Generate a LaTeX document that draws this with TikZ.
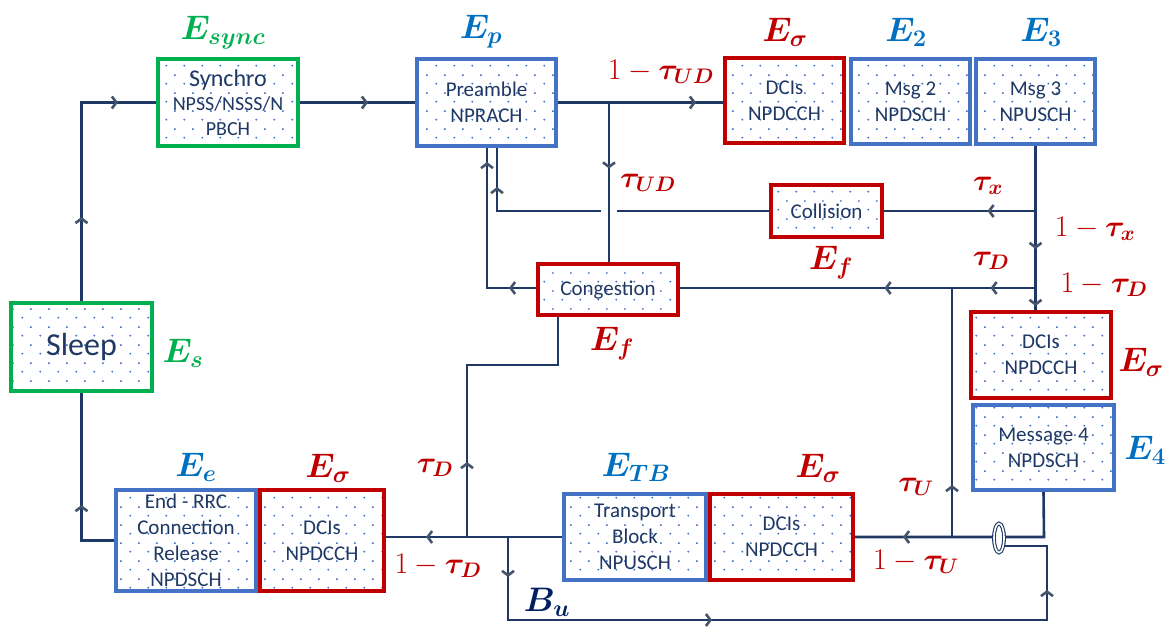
\documentclass[tikz,border=0pt]{standalone}
\usepackage{fix-cm}
\usepackage{amsmath}
\usepackage{bm}
\usepackage[no-math]{fontspec}
\setmainfont{Carlito}
\usetikzlibrary{arrows.meta,decorations.markings,patterns.meta,shapes.geometric}
\definecolor{navy}{HTML}{1F3864}
\definecolor{boxgreen}{HTML}{00B050}
\definecolor{boxblue}{HTML}{4472C4}
\definecolor{boxred}{HTML}{C00000}
\definecolor{lblblue}{HTML}{0070C0}
\definecolor{lblnavy}{HTML}{002060}
\definecolor{arrgray}{HTML}{44546A}
\definecolor{dotblue}{HTML}{4472C4}
\tikzdeclarepattern{
  name=sdots,
  type=uncolored,
  bottom left={(0pt,0pt)},
  top right={(18pt,18pt)},
  tile size={(18pt,18pt)},
  code={
    \fill (4.5pt,4.5pt) circle [radius=1.1pt];
    \fill (13.5pt,13.5pt) circle [radius=1.1pt];
  }
}
\tikzset{
  box/.style={draw, line width=4pt, pattern=sdots, pattern color=dotblue, inner sep=2pt, align=center, text=navy, font=\fontsize{21}{26}\selectfont},
  gbox/.style={box, draw=boxgreen},
  bbox/.style={box, draw=boxblue},
  rbox/.style={box, draw=boxred},
  conn/.style={draw=navy, line width=2.6pt},
  am/.style={postaction={decorate, decoration={markings, mark=at position #1 with {\arrow[arrgray]{Straight Barb[length=4.5pt,width=12pt,line width=2.6pt]}}}}},
  lbl/.style={font=\fontsize{30}{36}\selectfont, inner sep=0pt},
  elbl/.style={font=\fontsize{34}{40}\selectfont, inner sep=0pt},
}
\begin{document}
\begin{tikzpicture}[x=1pt,y=-1pt]
\useasboundingbox (0,0) rectangle (1170,628);
% boxes
\node[gbox, minimum width=140, minimum height=87, font=\fontsize{20}{24.5}\selectfont] (sync) at (228,102.5) {{\fontsize{24}{26}\selectfont Synchro}\\NPSS/NSSS/N\\PBCH};
\node[gbox, minimum width=141, minimum height=88, font=\fontsize{32}{36}\selectfont] (sleep) at (81.5,347) {Sleep};
\node[bbox, minimum width=139, minimum height=87] (pre) at (486.5,102.5) {Preamble\\NPRACH};
\node[rbox, minimum width=119, minimum height=85] (dci1) at (784.5,100.5) {DCIs\\NPDCCH};
\node[bbox, minimum width=119, minimum height=85] (msg2) at (910.5,101.5) {Msg 2\\NPDSCH};
\node[bbox, minimum width=119, minimum height=85] (msg3) at (1035.5,101.5) {Msg 3\\NPUSCH};
\node[rbox, minimum width=111, minimum height=52] (coll) at (826.5,211) {Collision};
\node[rbox, minimum width=140, minimum height=51] (cong) at (608,290) {Congestion};
\node[rbox, minimum width=140, minimum height=86] (dci2) at (1041,355) {DCIs\\NPDCCH};
\node[bbox, minimum width=141, minimum height=85] (msg4) at (1043.5,447.5) {Message 4\\NPDSCH};
\node[bbox, minimum width=140, minimum height=101] (rrc) at (186,540.5) {End - RRC\\Connection\\Release\\NPDSCH};
\node[rbox, minimum width=124, minimum height=101] (dci3) at (322,540.5) {DCIs\\NPDCCH};
\node[bbox, minimum width=142, minimum height=86] (tb) at (635,537) {Transport\\Block\\NPUSCH};
\node[rbox, minimum width=143, minimum height=86] (dci4) at (781.5,537) {DCIs\\NPDCCH};
% junction coordinates
\coordinate (j1) at (609,102.5);
\coordinate (j2) at (1035.5,211);
\coordinate (j3) at (1035.5,288);
\coordinate (gapR) at (617,211);
\coordinate (gapL) at (601,211);
\coordinate (c1) at (497,211);
\coordinate (c2) at (487,288);
\coordinate (j6) at (952,288);
\coordinate (j5) at (952,537);
\coordinate (m4c) at (1044,537);
\coordinate (j8) at (467,537);
\coordinate (j7) at (508,537);
\coordinate (c3) at (467,365);
\coordinate (c4) at (558,365);
\coordinate (c5) at (81.5,540.5);
\coordinate (bu1) at (508,620);
\coordinate (bu2) at (1047,620);
\coordinate (bu3) at (1047,546);
\coordinate (ringR) at (1004,546);
% connectors
\draw[conn, am=84pt, am=235pt] (sleep.north) |- (sync.west);
\draw[conn, am=68pt] (sync.east) -- (pre.west);
\draw[conn, am=138pt] (pre.east) -- (pre.east -| dci1.west);
\draw[conn, am=66pt] (j1) -- (j1 |- cong.north);
\draw[conn, am=103pt, am=160pt] (msg3.south) -- (msg3.south |- dci2.north);
\draw[conn, am=48pt] (j2) -- (coll.east);
\draw[conn, am=45pt, am=151pt] (j3) -- (cong.east |- j3);
\draw[conn] (coll.west) -- (gapR);
\draw[conn, am=128pt] (gapL) -- (c1) -- (c1 |- pre.south);
\draw[conn, am=27pt, am=175pt] (cong.west |- j3) -- (c2) -- (c2 |- pre.south);
\draw[conn, am=52pt] (j5) -- (j6);
\draw[conn, am=186pt] (msg4.south) -- (m4c) -- (dci4.east |- m4c);
\draw[conn, am=136pt] (tb.west) -- (dci3.east |- tb.west);
\draw[conn, am=75pt] (j8) -- (c3) -- (c4) -- (c4 |- cong.south);
\draw[conn, am=68pt] (rrc.west) -- (c5) -- (sleep.south);
\draw[conn, am=40pt, am=287pt, am=652pt] (j7) -- (bu1) -- (bu2) -- (bu3) -- (ringR);
\node[ellipse, draw=navy, line width=1.1pt, double=white, double distance=1.6pt, fill=white, minimum width=10pt, minimum height=29pt, inner sep=0pt] (ring) at (999,538) {};
% labels
\node[elbl, text=boxgreen] (lsync) at (223,33) {$\bm{E_{sync}}$};
\node[elbl, text=lblblue] (lp) at (481,32) {$\bm{E_{p}}$};
\node[elbl, text=boxred] (ls1) at (785,32) {$\bm{E_{\sigma}}$};
\node[elbl, text=lblblue] (l2) at (906,32) {$\bm{E_{2}}$};
\node[elbl, text=lblblue] (l3) at (1041,32) {$\bm{E_{3}}$};
\node[lbl, text=boxred] (t1) at (661,72) {$1-\bm{\tau_{UD}}$};
\node[lbl, text=boxred] (t2) at (648,183) {$\bm{\tau_{UD}}$};
\node[lbl, text=boxred] (t3) at (988,186) {$\bm{\tau_{x}}$};
\node[lbl, text=boxred] (t4) at (1095,229) {$1-\bm{\tau_{x}}$};
\node[elbl, text=boxred] (lf1) at (831,263) {$\bm{E_{f}}$};
\node[lbl, text=boxred] (t5) at (991,261) {$\bm{\tau_{D}}$};
\node[lbl, text=boxred] (t6) at (1104,285) {$1-\bm{\tau_{D}}$};
\node[elbl, text=boxred] (lf2) at (612,344) {$\bm{E_{f}}$};
\node[elbl, text=boxgreen] (lsl) at (183,353) {$\bm{E_{s}}$};
\node[elbl, text=boxred] (ls2) at (1141,362) {$\bm{E_{\sigma}}$};
\node[elbl, text=lblblue] (l4) at (1145,450) {$\bm{E_{4}}$};
\node[lbl, text=boxred] (t7) at (916,487) {$\bm{\tau_{U}}$};
\node[lbl, text=boxred] (t8) at (916,562) {$1-\bm{\tau_{U}}$};
\node[elbl, text=lblblue] (le) at (196,467) {$\bm{E_{e}}$};
\node[elbl, text=boxred] (ls3) at (328,468) {$\bm{E_{\sigma}}$};
\node[lbl, text=boxred] (t9) at (435,468) {$\bm{\tau_{D}}$};
\node[lbl, text=boxred] (t10) at (438,566) {$1-\bm{\tau_{D}}$};
\node[elbl, text=lblblue] (ltb) at (636,467) {$\bm{E_{TB}}$};
\node[elbl, text=boxred] (ls4) at (818,468) {$\bm{E_{\sigma}}$};
\node[elbl, text=lblnavy] (lbu) at (547,602) {$\bm{B_{u}}$};
\end{tikzpicture}
\end{document}
